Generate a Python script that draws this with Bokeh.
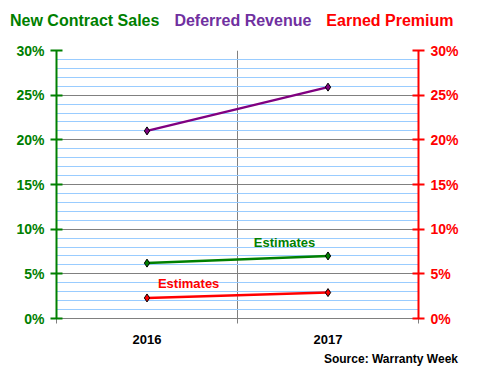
from bokeh.plotting import figure
from bokeh.models import Range1d, LinearAxis, FixedTicker, NumeralTickFormatter, Label, Div
from bokeh.layouts import column
from bokeh.embed import file_html
from bokeh.resources import INLINE

years = [2016, 2017]
new_contract_sales = [0.062, 0.070]
deferred_revenue = [0.210, 0.259]
earned_premium = [0.023, 0.029]
y_major = [0.0, 0.05, 0.10, 0.15, 0.20, 0.25, 0.30]
y_minor = [i / 100 for i in range(0, 31)]
x_bounds = [2015.5, 2016.5, 2017.5]
series_names = ["New Contract Sales", "Deferred Revenue", "Earned Premium"]
source_text = "Source: Warranty Week"

GREEN = "#008000"
PURPLE = "#800080"
PURPLE_TXT = "#7030a0"
RED = "#ff0000"
FONT = "Liberation Sans"

header = Div(width=464, height=40, margin=0, text=(
    f'<div style="font-family:\'Liberation Sans\';font-weight:bold;font-size:16px;white-space:nowrap;'
    f'padding-top:10px;padding-left:10px;">'
    f'<span style="color:{GREEN}">{series_names[0]}</span>'
    f'<span style="color:{PURPLE_TXT};margin-left:15px">{series_names[1]}</span>'
    f'<span style="color:{RED};margin-left:15px">{series_names[2]}</span></div>'))

p = figure(width=464, height=306, output_backend="svg", toolbar_location=None,
           x_range=Range1d(2015.5, 2017.5), y_range=Range1d(0, 0.30),
           min_border_left=56, min_border_right=46, min_border_top=10, min_border_bottom=26)
p.outline_line_color = None

yt = FixedTicker(ticks=y_major, minor_ticks=y_minor)

def style_y(ax, col):
    ax.ticker = yt
    ax.formatter = NumeralTickFormatter(format="0%")
    ax.axis_line_color = col
    ax.axis_line_width = 2
    ax.major_tick_line_color = col
    ax.major_tick_line_width = 2
    ax.major_tick_in = 6
    ax.major_tick_out = 6
    ax.minor_tick_line_color = None
    ax.major_label_text_color = col
    ax.major_label_text_font = FONT
    ax.major_label_text_font_style = "bold"
    ax.major_label_text_font_size = "14px"
    ax.major_label_standoff = 6

style_y(p.yaxis[0], GREEN)
ra = LinearAxis()
style_y(ra, RED)
p.add_layout(ra, "right")

xa = p.xaxis[0]
xa.ticker = FixedTicker(ticks=years, minor_ticks=x_bounds)
xa.axis_line_color = "#808080"
xa.major_tick_line_color = None
xa.major_tick_out = 0
xa.major_tick_in = 0
xa.minor_tick_line_color = "#808080"
xa.minor_tick_out = 5
xa.minor_tick_in = 0
xa.major_label_text_font = FONT
xa.major_label_text_font_style = "bold"
xa.major_label_text_font_size = "13px"
xa.major_label_text_color = "black"
xa.major_label_standoff = 11

p.ygrid.ticker = yt
p.ygrid.grid_line_color = "#808080"
p.ygrid.minor_grid_line_color = "#99ccff"
p.xgrid.ticker = FixedTicker(ticks=[2016.5])
p.xgrid.grid_line_color = "#808080"

for vals, col in [(deferred_revenue, PURPLE), (new_contract_sales, GREEN), (earned_premium, RED)]:
    p.line(years, vals, line_color=col, line_width=2.5)
    p.scatter(years, vals, marker="diamond", size=8, fill_color=col, line_color="black", line_width=1)

def lab(text, x, y, color, size, align="center"):
    p.add_layout(Label(x=x, y=y, text=text, text_color=color,
                       text_font=FONT, text_font_style="bold", text_font_size=size,
                       text_align=align, text_baseline="middle"))

lab("Estimates", 2016.76, 0.0856, GREEN, "13px")
lab("Estimates", 2016.23, 0.039, RED, "13px")

footer = Div(width=464, height=18, margin=0, text=(
    f'<div style="font-family:\'Liberation Sans\';font-weight:bold;font-size:12px;white-space:nowrap;'
    f'text-align:right;width:458px;padding-top:5px;color:black">{source_text}</div>'))

layout = column(header, p, footer, spacing=0)
open("out.html", "w").write(file_html(layout, INLINE))
